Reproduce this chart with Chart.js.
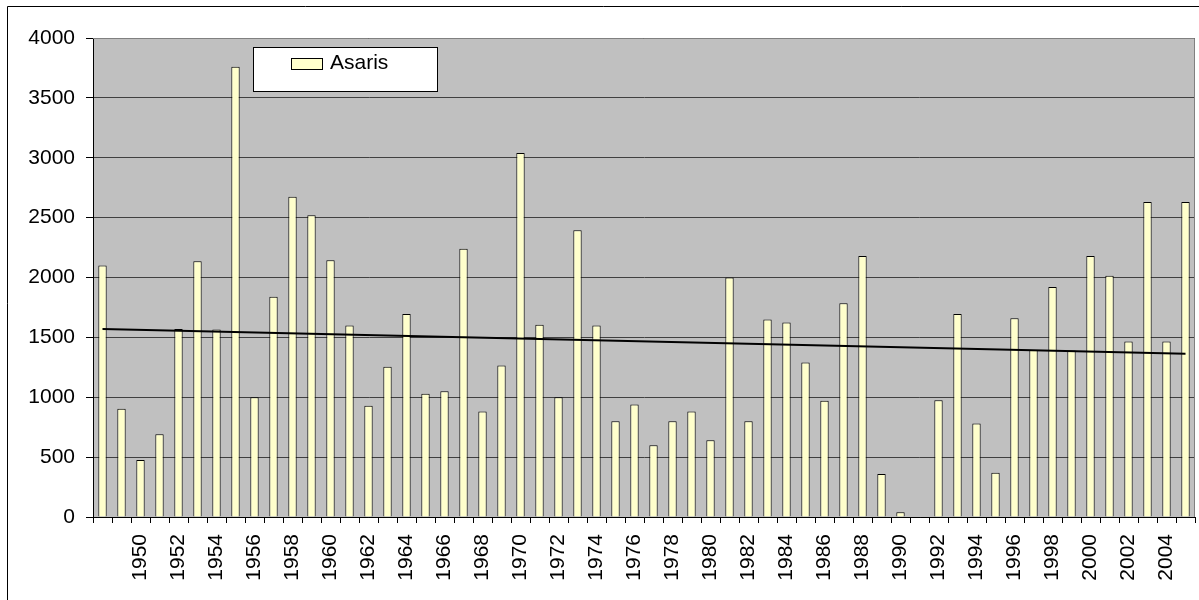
<!DOCTYPE html>
<html>
<head>
<meta charset="utf-8">
<script src="https://cdn.jsdelivr.net/npm/chart.js@4/dist/chart.umd.min.js"></script>
<style>
  html, body { margin: 0; padding: 0; background: #ffffff; }
  #wrap { position: relative; width: 1199px; height: 600px; }
</style>
</head>
<body>
<div id="wrap"><canvas id="asarisChart" width="1199" height="600"></canvas></div>
<script>
// Asaris yearly values, 1948 - 2005
const YEARS = [
  '1948', '1949', '1950', '1951', '1952', '1953', '1954', '1955', '1956', '1957',
  '1958', '1959', '1960', '1961', '1962', '1963', '1964', '1965', '1966', '1967',
  '1968', '1969', '1970', '1971', '1972', '1973', '1974', '1975', '1976', '1977',
  '1978', '1979', '1980', '1981', '1982', '1983', '1984', '1985', '1986', '1987',
  '1988', '1989', '1990', '1991', '1992', '1993', '1994', '1995', '1996', '1997',
  '1998', '1999', '2000', '2001', '2002', '2003', '2004', '2005'
];

const ASARIS = [
  2100, 905, 475, 690, 1570, 2135, 1565, 3760, 1000, 1840,
  2675, 2520, 2145, 1600, 930, 1255, 1695, 1030, 1050, 2240,
  880, 1265, 3040, 1605, 1000, 2395, 1600, 800, 940, 600,
  800, 880, 640, 2000, 800, 1650, 1625, 1290, 970, 1785,
  2180, 360, 40, 0, 975, 1695, 780, 370, 1660, 1395,
  1920, 1390, 2180, 2015, 1465, 2630, 1465, 2630
];

// Linear trend line, end values
const TREND_START = 1570;
const TREND_END = 1363;

const Y_TICKS = [0, 500, 1000, 1500, 2000, 2500, 3000, 3500, 4000];

const FONT = "'Liberation Sans', Arial, sans-serif";

const trendData = YEARS.map((y, i) => {
  if (i === 0) return TREND_START;
  if (i === YEARS.length - 1) return TREND_END;
  return null;
});

// Grey plot area, frame, legend box and outer border
const excelLook = {
  id: 'excelLook',
  beforeDraw(chart) {
    const { ctx, chartArea: a } = chart;
    ctx.save();
    ctx.fillStyle = '#c0c0c0';
    ctx.fillRect(a.left, a.top, a.right - a.left, a.bottom - a.top);
    ctx.restore();
  },
  afterDraw(chart) {
    const { ctx, chartArea: a } = chart;
    ctx.save();
    // plot frame, top and right
    ctx.strokeStyle = '#808080';
    ctx.lineWidth = 1;
    ctx.beginPath();
    ctx.moveTo(a.left, a.top + 0.5);
    ctx.lineTo(a.right - 0.5, a.top + 0.5);
    ctx.lineTo(a.right - 0.5, a.bottom);
    ctx.stroke();

    // outer chart border
    ctx.strokeStyle = '#000';
    ctx.beginPath();
    ctx.moveTo(7.5, 600);
    ctx.lineTo(7.5, 6.5);
    ctx.lineTo(1199, 6.5);
    ctx.stroke();

    // legend
    ctx.fillStyle = '#fff';
    ctx.fillRect(253.5, 47.5, 184, 44);
    ctx.strokeRect(253.5, 47.5, 184, 44);
    ctx.fillStyle = '#ffffcc';
    ctx.fillRect(291.5, 58.5, 31, 11);
    ctx.strokeRect(291.5, 58.5, 31, 11);
    ctx.fillStyle = '#000';
    ctx.font = '21px ' + FONT;
    ctx.textAlign = 'left';
    ctx.textBaseline = 'middle';
    ctx.fillText('Asaris', 330, 63);
    ctx.restore();
  }
};

new Chart(document.getElementById('asarisChart'), {
  type: 'bar',
  data: {
    labels: YEARS,
    datasets: [
      {
        type: 'line',
        label: 'Trend',
        data: trendData,
        spanGaps: true,
        borderColor: '#000',
        borderWidth: 2,
        pointRadius: 0,
        fill: false,
        order: 0
      },
      {
        label: 'Asaris',
        data: ASARIS,
        backgroundColor: '#ffffcc',
        borderColor: '#000',
        borderWidth: 1,
        borderSkipped: 'bottom',
        categoryPercentage: 1,
        barPercentage: 0.44,
        order: 1
      }
    ]
  },
  options: {
    responsive: false,
    animation: false,
    devicePixelRatio: 1,
    layout: { padding: { top: 38, right: 4, bottom: 0, left: 0 } },
    plugins: {
      legend: { display: false },
      tooltip: { enabled: false }
    },
    scales: {
      x: {
        afterFit(scale) {
          scale.height = 83;
          scale.paddingLeft = 0;
          scale.paddingRight = 0;
        },
        grid: {
          offset: true,
          drawOnChartArea: false,
          tickLength: 6,
          tickColor: '#000'
        },
        border: { color: '#000' },
        ticks: {
          autoSkip: false,
          minRotation: 90,
          maxRotation: 90,
          padding: 11,
          color: '#000',
          font: { family: FONT, size: 21 },
          callback(value, index) {
            return (index > 0 && index % 2 === 0) ? this.getLabelForValue(value) : '';
          }
        }
      },
      y: {
        min: Y_TICKS[0],
        max: Y_TICKS[Y_TICKS.length - 1],
        afterFit(scale) {
          scale.width = 93;
          scale.paddingTop = 0;
          scale.paddingBottom = 0;
        },
        afterBuildTicks(scale) { scale.ticks = Y_TICKS.map(v => ({ value: v })); },
        grid: {
          color: '#404040',
          tickColor: '#000',
          tickLength: 7
        },
        border: { color: '#000' },
        ticks: {
          padding: 11,
          color: '#000',
          font: { family: FONT, size: 21 },
          callback: v => String(v)
        }
      }
    }
  },
  plugins: [excelLook]
});
</script>
</body>
</html>
